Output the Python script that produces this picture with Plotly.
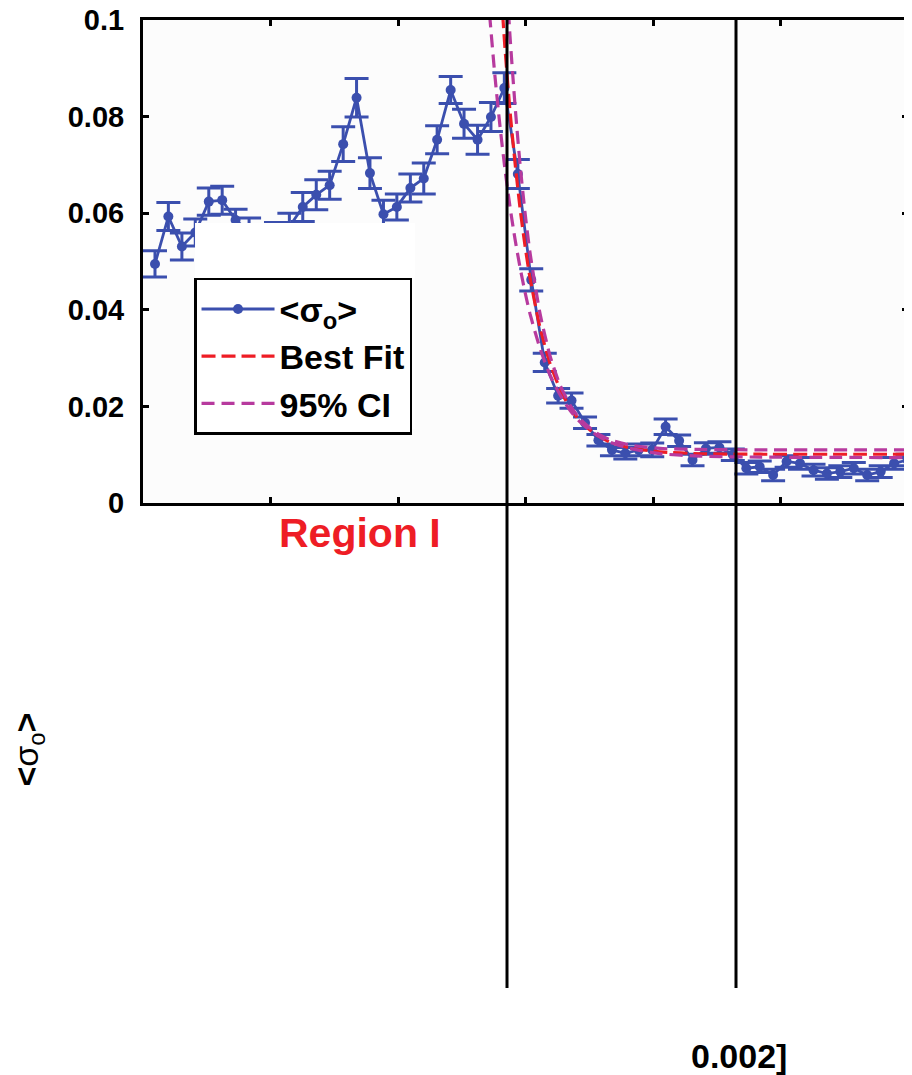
import plotly.graph_objects as go

# ---- data ----
x_pts = [0.094, 0.199, 0.305, 0.410, 0.516, 0.621, 0.726, 0.832, 0.937, 1.043,
         1.148, 1.253, 1.359, 1.464, 1.570, 1.675, 1.780, 1.886, 1.991, 2.097,
         2.202, 2.307, 2.413, 2.518, 2.624, 2.729, 2.834, 2.940, 3.045, 3.151,
         3.256, 3.361, 3.467, 3.572, 3.678, 3.783, 3.888, 3.994, 4.099, 4.205,
         4.310, 4.415, 4.521, 4.626, 4.732, 4.837, 4.942, 5.048, 5.153, 5.259,
         5.364, 5.469, 5.575, 5.680, 5.786, 5.891, 5.996]
sigma_mean = [0.0495, 0.0593, 0.0531, 0.0560, 0.0624, 0.0627, 0.0586, 0.0563, 0.0540, 0.0553,
              0.0572, 0.0613, 0.0638, 0.0658, 0.0743, 0.0839, 0.0683, 0.0598, 0.0613, 0.0652,
              0.0672, 0.0752, 0.0855, 0.0785, 0.0752, 0.0799, 0.0859, 0.0681, 0.0462, 0.0291,
              0.0222, 0.0212, 0.0166, 0.0130, 0.0110, 0.0103, 0.0110, 0.0110, 0.0158, 0.0129,
              0.0089, 0.0113, 0.0115, 0.0100, 0.0072, 0.0075, 0.0058, 0.0086, 0.0082, 0.0068,
              0.0061, 0.0065, 0.0072, 0.0058, 0.0065, 0.0082, 0.0089]
sigma_err = [0.0027, 0.0029, 0.0028, 0.0028, 0.0028, 0.0029, 0.0022, 0.0027, 0.0027, 0.0028,
             0.0028, 0.0030, 0.0031, 0.0029, 0.0036, 0.0040, 0.0032, 0.0029, 0.0027, 0.0029,
             0.0032, 0.0029, 0.0028, 0.0030, 0.0030, 0.0030, 0.0032, 0.0030, 0.0023, 0.0019,
             0.0015, 0.0016, 0.0012, 0.0012, 0.0012, 0.0012, 0.0012, 0.0014, 0.0016, 0.0012,
             0.0012, 0.0012, 0.0012, 0.0012, 0.0012, 0.0012, 0.0012, 0.0012, 0.0012, 0.0012,
             0.0012, 0.0012, 0.0012, 0.0012, 0.0012, 0.0012, 0.0012]

fit_x = [2.800, 2.839, 2.878, 2.918, 2.957, 2.996, 3.035, 3.114, 3.192, 3.271,
         3.349, 3.427, 3.545, 3.663, 3.820, 4.055, 4.369, 4.839, 6.0]
fit_y = [0.1095, 0.0942, 0.0813, 0.0704, 0.0611, 0.0533, 0.0467, 0.0363, 0.0289, 0.0236,
         0.0197, 0.0170, 0.0143, 0.0126, 0.0114, 0.0106, 0.0102, 0.0101, 0.0101]

ci_low_x = [2.682, 2.722, 2.761, 2.800, 2.839, 2.878, 2.918, 2.957, 2.996, 3.035,
            3.114, 3.192, 3.271, 3.349, 3.427, 3.545, 3.663, 3.820, 4.055, 4.369, 4.839, 6.0]
ci_low_y = [0.1135, 0.1000, 0.0882, 0.0780, 0.0691, 0.0614, 0.0546, 0.0488, 0.0437, 0.0392,
            0.0320, 0.0265, 0.0224, 0.0192, 0.0168, 0.0143, 0.0126, 0.0113, 0.0102, 0.0097,
            0.0095, 0.0094]

ci_high_x = [2.839, 2.878, 2.918, 2.957, 2.996, 3.035, 3.114, 3.192, 3.271, 3.349,
             3.427, 3.545, 3.663, 3.820, 4.055, 4.369, 4.839, 6.0]
ci_high_y = [0.1142, 0.0968, 0.0823, 0.0702, 0.0602, 0.0519, 0.0392, 0.0305, 0.0244, 0.0203,
             0.0174, 0.0147, 0.0131, 0.0120, 0.0113, 0.0111, 0.0110, 0.0110]

region_bounds = [2.855, 4.651]
y_ticks = [0, 0.02, 0.04, 0.06, 0.08, 0.1]
y_ticktext = ["0", "0.02", "0.04", "0.06", "0.08", "0.1"]

BLUE = "#3B4FAE"
RED = "#EE1D25"
MAG = "#B73A9E"
FONT = "Liberation Sans, Arial, sans-serif"

fig = go.Figure()

fig.add_trace(go.Scatter(
    x=x_pts, y=sigma_mean, mode="lines+markers", name="&lt;σ<sub>o</sub>&gt;",
    line=dict(color=BLUE, width=2.8),
    marker=dict(color=BLUE, size=10),
    error_y=dict(type="data", array=sigma_err, color=BLUE, thickness=3, width=12),
))
fig.add_trace(go.Scatter(
    x=fit_x, y=fit_y, mode="lines", name="Best Fit",
    line=dict(color=RED, width=3.2, dash="14px,6px", shape="spline", smoothing=0.6),
))
fig.add_trace(go.Scatter(
    x=ci_low_x, y=ci_low_y, mode="lines", name="95% CI", legendgroup="ci",
    line=dict(color=MAG, width=3.2, dash="13px,7px", shape="spline", smoothing=0.6),
))
fig.add_trace(go.Scatter(
    x=ci_high_x, y=ci_high_y, mode="lines", name="95% CI", legendgroup="ci", showlegend=False,
    line=dict(color=MAG, width=3.2, dash="13px,7px", shape="spline", smoothing=0.6),
))

# region boundary lines extending below the axes
for xb in region_bounds:
    fig.add_shape(type="line", xref="x", yref="paper", x0=xb, x1=xb, y0=-1.004, y1=1,
                  line=dict(color="black", width=3), layer="above")

# white patch hiding part of the data behind the legend
fig.add_shape(type="rect", xref="paper", yref="paper", x0=0.068, x1=0.3556, y0=0.153, y1=0.5797,
              fillcolor="white", line=dict(width=0), layer="above")

fig.add_annotation(text="<b>Region I</b>", xref="paper", yref="paper", x=0.2837, y=-0.062,
                   showarrow=False, font=dict(family=FONT, size=41, color=RED),
                   xanchor="center", yanchor="middle")
fig.add_annotation(text="<b>&lt;</b>σ<sub>o</sub><b>&gt;</b>", xref="paper", yref="paper",
                   x=-0.15, y=-0.51, textangle=-90, showarrow=False,
                   font=dict(family=FONT, size=34, color="black"),
                   xanchor="center", yanchor="middle")
fig.add_annotation(text="<b>0.002]</b>", xref="paper", yref="paper", x=0.779, y=-1.145,
                   showarrow=False, font=dict(family=FONT, size=34, color="black"),
                   xanchor="center", yanchor="middle")

# the page body adds an 8px offset, so the figure is shifted accordingly
fig.update_layout(
    width=904, height=1067,
    margin=dict(l=135, r=4, t=12, b=572, autoexpand=False),
    paper_bgcolor="white", plot_bgcolor="#fcfcfc",
    font=dict(family=FONT, color="black"),
    legend=dict(x=0.0667, y=0.466, xanchor="left", yanchor="top",
                bgcolor="white", bordercolor="black", borderwidth=2.5,
                font=dict(family=FONT, size=34, color="black", weight="bold"),
                itemwidth=73, tracegroupgap=0),
    xaxis=dict(range=[0, 6], tickvals=[0, 1, 2, 3, 4, 5, 6], showticklabels=False,
               ticks="inside", ticklen=6, tickwidth=2.5, tickcolor="black",
               showline=True, linecolor="black", linewidth=3, mirror="ticks",
               showgrid=False, zeroline=False, automargin=False),
    yaxis=dict(range=[0, 0.1], tickvals=y_ticks, ticktext=y_ticktext,
               ticks="inside", ticklen=6, tickwidth=2.5, tickcolor="black",
               tickfont=dict(family=FONT, size=29, color="black", weight="bold"),
               ticklabelstandoff=10, ticklabeloverflow="allow",
               showline=True, linecolor="black", linewidth=3, mirror="ticks",
               showgrid=False, zeroline=False, automargin=False),
)

fig.write_html("out.html")
